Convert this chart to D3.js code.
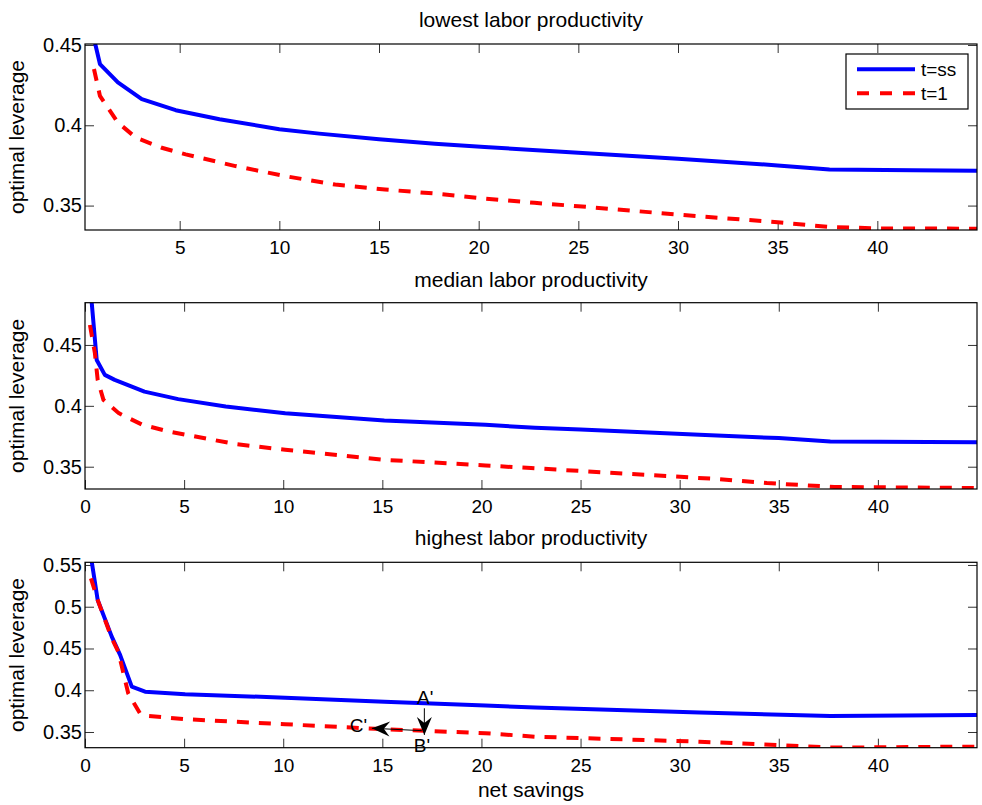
<!DOCTYPE html>
<html>
<head>
<meta charset="utf-8">
<script src="https://cdn.jsdelivr.net/npm/d3@7"></script>
<style>
  body { margin: 0; background: #fff; }
  svg { display: block; font-family: "Liberation Sans", Arial, Helvetica, sans-serif; }
</style>
</head>
<body>
<svg id="chart" width="982" height="805"></svg>
<script>
// ---------------- data ----------------
const panelTitles = ["lowest labor productivity", "median labor productivity", "highest labor productivity"];
const legendLabels = ["t=ss", "t=1"];
const yLabel = "optimal leverage";
const xLabel = "net savings";

// lowest productivity
const lowSsX = [0.7, 1.0, 1.9, 3.1, 4.8, 7.0, 10.0, 12.0, 15.0, 17.8, 20.3, 25.0, 30.0, 35.0, 37.6, 41.8, 45.0];
const lowSsY = [0.454, 0.4381, 0.4267, 0.4163, 0.4094, 0.4038, 0.3975, 0.3948, 0.3913, 0.3885, 0.3865, 0.3829, 0.3792, 0.375, 0.3725, 0.372, 0.3717];
const low1X  = [0.7, 1.0, 1.9, 2.8, 4.1, 5.3, 7.8, 10.3, 12.8, 15.3, 17.8, 20.3, 22.8, 25.0, 30.0, 35.0, 37.6, 40.0, 45.0];
const low1Y  = [0.435, 0.4183, 0.4017, 0.3923, 0.386, 0.3819, 0.3746, 0.3683, 0.3631, 0.36, 0.3575, 0.3544, 0.3517, 0.3496, 0.3444, 0.3396, 0.3367, 0.3358, 0.3356];

// median productivity
const medSsX = [0.3, 0.59, 1.0, 1.5, 3.0, 4.7, 7.1, 10.1, 15.1, 20.2, 22.7, 25.0, 31.0, 35.0, 37.6, 45.0];
const medSsY = [0.492, 0.4377, 0.4254, 0.4213, 0.4117, 0.4055, 0.3994, 0.394, 0.388, 0.3844, 0.382, 0.3805, 0.3762, 0.3735, 0.3707, 0.370];
const med1X  = [0.25, 0.5, 0.64, 0.93, 1.7, 2.9, 4.2, 7.6, 10.1, 15.1, 20.2, 22.5, 25.0, 31.9, 34.4, 37.8, 45.0];
const med1Y  = [0.4664, 0.4432, 0.4213, 0.4049, 0.394, 0.3844, 0.379, 0.3686, 0.3639, 0.3557, 0.351, 0.3489, 0.3465, 0.3399, 0.3366, 0.3334, 0.3325];

// highest productivity
const highSsX = [0.3, 0.64, 1.35, 1.77, 2.36, 3.03, 5.05, 10.1, 15.1, 20.2, 22.7, 31.0, 37.6, 45.0];
const highSsY = [0.56, 0.5081, 0.4642, 0.4423, 0.4043, 0.3983, 0.3952, 0.3911, 0.3863, 0.3816, 0.3792, 0.3732, 0.3692, 0.3704];
const high1X  = [0.3, 0.67, 1.35, 1.68, 2.18, 2.77, 3.03, 5.05, 10.1, 15.1, 20.2, 22.7, 31.0, 34.9, 37.6, 45.0];
const high1Y  = [0.534, 0.5061, 0.4623, 0.4462, 0.3964, 0.3725, 0.3696, 0.3653, 0.3593, 0.3533, 0.3485, 0.3444, 0.3384, 0.3345, 0.3313, 0.3325];

// axis ranges & ticks
const xDomains = [[0.25, 45], [0, 45], [0, 45]];
const yDomains = [[0.3348, 0.4506], [0.3317, 0.4847], [0.3312, 0.5532]];
const xTicks = [[5, 10, 15, 20, 25, 30, 35, 40], [0, 5, 10, 15, 20, 25, 30, 35, 40], [0, 5, 10, 15, 20, 25, 30, 35, 40]];
const yTicks = [[0.35, 0.4, 0.45], [0.35, 0.4, 0.45], [0.35, 0.4, 0.45, 0.5, 0.55]];

// annotations in bottom panel (data coordinates)
const annotLabels = ["A'", "C'", "B'"];
const annotLabelX = [17.16, 13.8, 17.0];
const annotLabelY = [0.3923, 0.3584, 0.3345];
const arrowFromX = [17.12, 16.99];
const arrowFromY = [0.3784, 0.3516];
const arrowToX   = [17.12, 14.47];
const arrowToY   = [0.3465, 0.3545];

// ---------------- layout ----------------
const panels = [
  { top: 44,    bottom: 230,   ss: [lowSsX, lowSsY],   t1: [low1X, low1Y] },
  { top: 302.7, bottom: 489,   ss: [medSsX, medSsY],   t1: [med1X, med1Y] },
  { top: 562.3, bottom: 747.7, ss: [highSsX, highSsY], t1: [high1X, high1Y] }
];
const left = 85, right = 977;
const titleY = [27, 287, 545];
const tickFont = 19, yTickFont = 20, labelFont = 21;

const svg = d3.select("#chart");
const defs = svg.append("defs");

panels.forEach((p, i) => {
  const x = d3.scaleLinear().domain(xDomains[i]).range([left, right]);
  const y = d3.scaleLinear().domain(yDomains[i]).range([p.bottom, p.top]);
  const g = svg.append("g");

  defs.append("clipPath").attr("id", "clip" + i)
    .append("rect").attr("x", left).attr("y", p.top)
    .attr("width", right - left).attr("height", p.bottom - p.top);

  // axes (ticks inward on all sides)
  const axB = g.append("g").attr("transform", `translate(0,${p.bottom})`)
    .call(d3.axisBottom(x).tickValues(xTicks[i]).tickSizeInner(-9).tickSizeOuter(0).tickPadding(11).tickFormat(d3.format("d")));
  const axT = g.append("g").attr("transform", `translate(0,${p.top})`)
    .call(d3.axisTop(x).tickValues(xTicks[i]).tickSizeInner(-9).tickSizeOuter(0).tickFormat(""));
  const axL = g.append("g").attr("transform", `translate(${left},0)`)
    .call(d3.axisLeft(y).tickValues(yTicks[i]).tickSizeInner(-9).tickSizeOuter(0).tickPadding(3).tickFormat(d => d3.format("")(+d.toFixed(2))));
  const axR = g.append("g").attr("transform", `translate(${right},0)`)
    .call(d3.axisRight(y).tickValues(yTicks[i]).tickSizeInner(-9).tickSizeOuter(0).tickFormat(""));
  [axB, axT, axL, axR].forEach(a => {
    a.select(".domain").remove();
    a.selectAll("line").attr("stroke", "#333").attr("stroke-width", 1);
    a.selectAll("text").attr("fill", "#000").style("font-size", tickFont + "px")
      .style("font-family", '"Liberation Sans", Arial, Helvetica, sans-serif');
  });
  axL.selectAll("text").style("font-size", yTickFont + "px");

  // lines
  const line = d3.line().x(d => x(d[0])).y(d => y(d[1]));
  const ssPts = p.ss[0].map((v, k) => [v, p.ss[1][k]]);
  const t1Pts = p.t1[0].map((v, k) => [v, p.t1[1][k]]);
  const plot = g.append("g").attr("clip-path", `url(#clip${i})`);
  plot.append("path").datum(ssPts).attr("d", line)
    .attr("fill", "none").attr("stroke", "#0000ff").attr("stroke-width", 4)
    .attr("stroke-linejoin", "round");
  plot.append("path").datum(t1Pts).attr("d", line)
    .attr("fill", "none").attr("stroke", "#ff0000").attr("stroke-width", 4)
    .attr("stroke-dasharray", "12,10");

  // box
  g.append("rect").attr("x", left).attr("y", p.top)
    .attr("width", right - left).attr("height", p.bottom - p.top)
    .attr("fill", "none").attr("stroke", "#000").attr("stroke-width", 1.2);

  // title
  g.append("text").attr("x", (left + right) / 2).attr("y", titleY[i])
    .attr("text-anchor", "middle").style("font-size", labelFont + "px").text(panelTitles[i]);

  // y label
  g.append("text")
    .attr("transform", `translate(24,${(p.top + p.bottom) / 2}) rotate(-90)`)
    .attr("text-anchor", "middle").style("font-size", labelFont + "px").text(yLabel);

  // legend on top panel
  if (i === 0) {
    const lg = g.append("g");
    lg.append("rect").attr("x", 846).attr("y", 54).attr("width", 122).attr("height", 55)
      .attr("fill", "#fff").attr("stroke", "#000").attr("stroke-width", 1.2);
    const cols = ["#0000ff", "#ff0000"];
    const dashes = [null, "12,11"];
    const ly = [69.3, 93.3];
    legendLabels.forEach((lab, k) => {
      lg.append("line").attr("x1", 857).attr("x2", 915).attr("y1", ly[k]).attr("y2", ly[k])
        .attr("stroke", cols[k]).attr("stroke-width", 4).attr("stroke-dasharray", dashes[k]);
      lg.append("text").attr("x", 921).attr("y", ly[k] + 6.8)
        .style("font-size", tickFont + "px").text(lab);
    });
  }

  // annotations on bottom panel
  if (i === 2) {
    const an = g.append("g");
    annotLabels.forEach((lab, k) => {
      an.append("text").attr("x", x(annotLabelX[k])).attr("y", y(annotLabelY[k]))
        .attr("dy", "0.36em").attr("text-anchor", "middle")
        .style("font-size", tickFont + "px").text(lab);
    });
    arrowFromX.forEach((fx, k) => {
      const x1 = x(fx), y1 = y(arrowFromY[k]), x2 = x(arrowToX[k]), y2 = y(arrowToY[k]);
      const ang = Math.atan2(y2 - y1, x2 - x1) * 180 / Math.PI;
      an.append("line").attr("x1", x1).attr("y1", y1).attr("x2", x2).attr("y2", y2)
        .attr("stroke", "#000").attr("stroke-width", 1);
      an.append("path").attr("d", "M0,0 L-18,-7.5 L-12,0 L-18,7.5 Z")
        .attr("transform", `translate(${x2},${y2}) rotate(${ang})`).attr("fill", "#000");
    });
  }
});

// x label
svg.append("text").attr("x", (left + right) / 2).attr("y", 797)
  .attr("text-anchor", "middle").style("font-size", labelFont + "px").text(xLabel);
</script>
</body>
</html>
